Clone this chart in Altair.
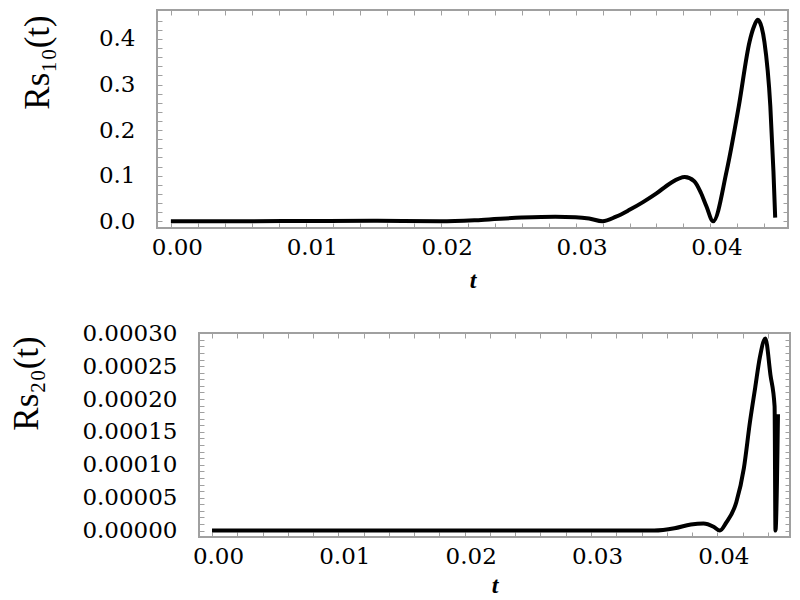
import altair as alt
import pandas as pd

# ---- data ----
t10 = [0.0, 0.005, 0.010, 0.015, 0.020, 0.023, 0.026, 0.0285, 0.030, 0.031, 0.032,
       0.033, 0.034, 0.035, 0.036, 0.037, 0.0381, 0.0388, 0.0393, 0.0397, 0.0402,
       0.0412, 0.0421, 0.0429, 0.0432, 0.0435, 0.0438, 0.0440, 0.04444, 0.04467,
       0.0448]
rs10 = [0.0, 0.0, 0.0005, 0.001, 0.0, 0.003, 0.008, 0.010, 0.009, 0.006, 0.0,
        0.010, 0.025, 0.042, 0.061, 0.083, 0.097, 0.088, 0.062, 0.033, 0.0,
        0.110, 0.252, 0.394, 0.425, 0.442, 0.425, 0.394, 0.252, 0.110,
        0.008]

t20 = [0.0, 0.010, 0.020, 0.030, 0.0350, 0.0366, 0.0379, 0.0389, 0.0397, 0.0402,
       0.0407, 0.0415, 0.0421, 0.04258, 0.0430, 0.04336, 0.0438, 0.0442, 0.04453,
       0.0446, 0.0448]
rs20 = [0.0, 0.0, 0.0, 0.0, 0.0, 0.0000034, 0.0000092, 0.0000108, 0.0000059, 0.0,
        0.000012, 0.000043, 0.000095, 0.000165, 0.000218, 0.000263, 0.000292,
        0.000237, 0.000189, 0.0, 0.000177]

x_ticks = [round(i * 0.002, 3) for i in range(23)]
y10_ticks = [round(i * 0.02, 2) for i in range(23)]
y20_ticks = [round(i * 0.00001, 5) for i in range(31)]

x_domain = [-0.00103, 0.04575]
y10_domain = [-0.0148, 0.4635]
y20_domain = [-0.0000098, 0.0003004]

LABEL_FONT = "DejaVu Serif"
TITLE_FONT = "Liberation Serif"
GRAY = "#a0a0a0"

df10 = pd.DataFrame({"t": t10, "v": rs10})
df20 = pd.DataFrame({"t": t20, "v": rs20})


def axis_common(**kw):
    base = dict(domain=False, grid=False, tickColor=GRAY, tickSize=5, offset=-5,
                labelFont=LABEL_FONT, labelFontSize=23, labelColor="black",
                labelOverlap=False, labelFlush=False,
                titleFont=TITLE_FONT, titleColor="black", titleFontWeight="normal")
    base.update(kw)
    return alt.Axis(**base)


def panel(df, ydom, yticks, ylabel_expr, ytitle, ytitle_x, ytitle_y, w, h,
          shift=0, xtitle_pad=9):
    # shift: empty room on the left of the frame inside the view (indents the lower panel)
    xs = alt.Scale(domain=x_domain, nice=False, zero=False, range=[shift, w])
    ys = alt.Scale(domain=ydom, nice=False, zero=False)
    line = alt.Chart(df).mark_line(color="black", strokeWidth=4, interpolate="monotone").encode(
        x=alt.X("t:Q", scale=xs, axis=axis_common(
            orient="bottom", values=x_ticks, labelPadding=8, labelOffset=6,
            labelExpr="abs(datum.value*100 - round(datum.value*100)) < 1e-6 ? format(datum.value, '.2f') : ''",
            title="t", titleFontSize=24, titleFontStyle="italic", titleFontWeight="bold",
            titlePadding=xtitle_pad)),
        y=alt.Y("v:Q", scale=ys, axis=axis_common(
            orient="left", values=yticks, labelPadding=22, labelExpr=ylabel_expr,
            offset=-(shift + 5),
            title=ytitle, titleFontSize=35, titleX=ytitle_x, titleY=ytitle_y,
            titleBaseline="middle", titleAlign="center", titleAngle=270)),
    )
    frame_axes = alt.Chart(df).mark_line(opacity=0).encode(
        x=alt.X("t:Q", scale=xs, axis=axis_common(orient="top", values=x_ticks,
                                                  labels=False, title=None)),
        y=alt.Y("v:Q", scale=ys, axis=axis_common(orient="right", values=yticks,
                                                  labels=False, title=None)),
    )
    box = alt.Chart(df).mark_rect(fill=None, stroke=GRAY, strokeWidth=1.5).encode(
        x=alt.value(shift), x2=alt.value(w), y=alt.value(0), y2=alt.value(h))
    return alt.layer(box, frame_axes, line).resolve_axis(
        x="independent", y="independent").properties(
        width=w, height=h, view=alt.ViewBackground(stroke="transparent"))


top = panel(df10, y10_domain, y10_ticks,
            "abs(datum.value*10 - round(datum.value*10)) < 1e-6 ? format(datum.value, '.1f') : ''",
            "Rs₁₀(t)", -125, 52, 631, 218)
bottom = panel(df20, y20_domain, y20_ticks,
               "abs(datum.value*20000 - round(datum.value*20000)) < 1e-6 ? format(datum.value, '.5f') : ''",
               "Rs₂₀(t)", -178, 50, 633, 204, shift=42, xtitle_pad=5)

chart = alt.vconcat(top, bottom, spacing=28).configure(background="white", padding=0)

chart.save("out.html", embed_options={"renderer": "svg", "actions": False})
